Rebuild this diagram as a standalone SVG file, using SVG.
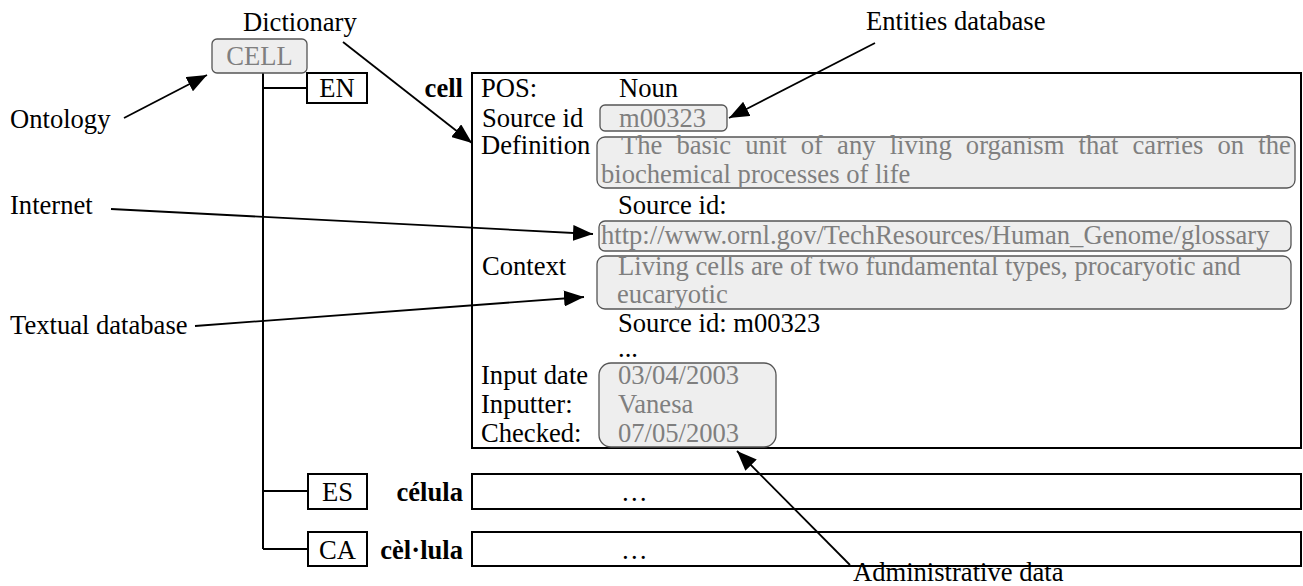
<svg xmlns="http://www.w3.org/2000/svg" width="1303" height="586" viewBox="0 0 1303 586">
<style>
text{font-family:"Liberation Serif","Times New Roman",serif;font-size:26.6px;fill:#000}
.g{fill:#7f7f7f}
.b{font-weight:bold}
.box{fill:#fff;stroke:#000;stroke-width:2}
.gb{fill:#eeeeee;stroke:#555;stroke-width:1.3}
.ln{fill:none;stroke:#000;stroke-width:2}
.ar{fill:none;stroke:#000;stroke-width:1.8;marker-end:url(#ah)}
</style>
<defs>
<marker id="ah" markerWidth="20" markerHeight="16" refX="20" refY="8" orient="auto" markerUnits="userSpaceOnUse">
<path d="M0,0 L20,8 L0,16 z" fill="#000"/>
</marker>
</defs>
<g id="tree">
<path class="ln" d="M263,73 V549 M263,88 H307 M263,491 H308 M263,549 H308"/>
</g>
<g id="cell-root">
<rect class="gb" x="212" y="39" width="95" height="34" rx="5"/>
<text class="g" x="259.5" y="65" text-anchor="middle">CELL</text>
</g>
<g id="lang-en">
<rect class="box" x="307" y="73" width="60" height="30"/>
<text x="337" y="97" text-anchor="middle">EN</text>
<text class="b" x="463" y="97" text-anchor="end">cell</text>
</g>
<g id="lang-es">
<rect class="box" x="308" y="474" width="59" height="35"/>
<text x="337.5" y="501" text-anchor="middle">ES</text>
<text class="b" x="463" y="501" text-anchor="end">célula</text>
<rect class="box" x="472" y="474" width="829" height="35"/>
<text x="621" y="501">…</text>
</g>
<g id="lang-ca">
<rect class="box" x="308" y="532" width="59" height="34"/>
<text x="337.5" y="559" text-anchor="middle">CA</text>
<text class="b" x="463" y="559" text-anchor="end">cèl·lula</text>
<rect class="box" x="472" y="532" width="829" height="34"/>
<text x="621" y="559">…</text>
</g>
<g id="entry">
<rect class="box" x="472" y="73" width="829" height="375"/>
<rect class="gb" x="600" y="105" width="127" height="26" rx="5"/>
<rect class="gb" x="597" y="137" width="698" height="51" rx="8"/>
<rect class="gb" x="599" y="221" width="692" height="30" rx="6"/>
<rect class="gb" x="597" y="256" width="694" height="53" rx="8"/>
<rect class="gb" x="599" y="363" width="177" height="84" rx="12"/>
<text x="481" y="97">POS:</text>
<text x="619" y="97">Noun</text>
<text x="482" y="127">Source id</text>
<text class="g" x="619" y="127">m00323</text>
<text x="481" y="154">Definition</text>
<text class="g" x="621" y="154" word-spacing="7.5">The basic unit of any living organism that carries on the</text>
<text class="g" x="601" y="183">biochemical processes of life</text>
<text x="618" y="214">Source id:</text>
<text class="g" x="601" y="244">http://www.ornl.gov/TechResources/Human_Genome/glossary</text>
<text x="482" y="275">Context</text>
<text class="g" x="618" y="275">Living cells are of two fundamental types, procaryotic and</text>
<text class="g" x="617" y="303">eucaryotic</text>
<text x="618" y="332">Source id: m00323</text>
<text x="618" y="357">...</text>
<text x="481" y="384">Input date</text>
<text class="g" x="618" y="384">03/04/2003</text>
<text x="481" y="413">Inputter:</text>
<text class="g" x="618" y="413">Vanesa</text>
<text x="481" y="442">Checked:</text>
<text class="g" x="618" y="442">07/05/2003</text>
</g>
<g id="labels">
<text x="243" y="31">Dictionary</text>
<text x="866" y="30">Entities database</text>
<text x="10" y="128">Ontology</text>
<text x="10" y="214">Internet</text>
<text x="10" y="334">Textual database</text>
<text x="853" y="581">Administrative data</text>
</g>
<g id="connectors">
<line class="ar" x1="124" y1="118" x2="207" y2="75"/>
<line class="ar" x1="343" y1="42" x2="472" y2="143"/>
<line class="ar" x1="875" y1="43" x2="729" y2="118"/>
<line class="ar" x1="111" y1="209" x2="593" y2="234"/>
<line class="ar" x1="195" y1="326" x2="584" y2="297"/>
<line class="ar" x1="850" y1="565" x2="737" y2="451"/>
</g>
</svg>
